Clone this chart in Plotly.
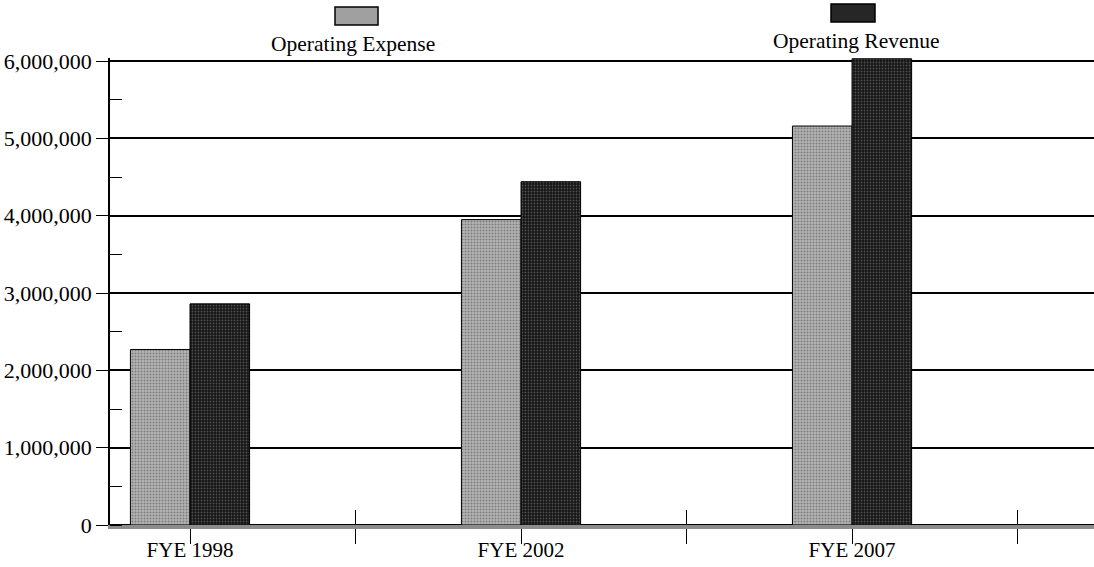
import plotly.graph_objects as go

categories = ["FYE 1998", "FYE 2002", "FYE 2007"]
operating_expense = [2270000, 3950000, 5160000]
operating_revenue = [2860000, 4440000, 6030000]
y_ticks = [0, 1000000, 2000000, 3000000, 4000000, 5000000, 6000000]

x_pos = list(range(len(categories)))
FONT = "Liberation Serif"

fig = go.Figure()
fig.add_trace(go.Bar(
    x=x_pos, y=operating_expense, name="Operating Expense",
    marker=dict(color="#a8a8a8", line=dict(color="black", width=1),
                pattern=dict(shape=".", fgcolor="#444444", bgcolor="#b4b4b4", size=3, solidity=0.35)),
))
fig.add_trace(go.Bar(
    x=x_pos, y=operating_revenue, name="Operating Revenue",
    marker=dict(color="#222222", line=dict(color="black", width=1),
                pattern=dict(shape=".", fgcolor="#8a8a8a", bgcolor="#151515", size=3, solidity=0.3)),
))

# x ticks: labels at category centers, plus boundary ticks
tickvals = []
ticktext = []
for i, c in enumerate(categories):
    tickvals += [i, i + 0.5]
    ticktext += [c, ""]

fig.update_layout(
    width=1094, height=567,
    margin=dict(l=110, r=0, t=58, b=42),
    paper_bgcolor="white", plot_bgcolor="white",
    barmode="group", bargap=0.64, bargroupgap=0,
    showlegend=False,
    font=dict(family=FONT, size=21, color="black"),
    xaxis=dict(
        range=[-0.2417, 2.731], automargin=False,
        tickmode="array", tickvals=tickvals, ticktext=ticktext,
        ticks="outside", ticklen=15, tickwidth=1.2, tickcolor="black",
        ticklabelstandoff=-12,
        minor=dict(tickmode="linear", tick0=0.5, dtick=1, ticks="inside",
                   ticklen=15, tickwidth=1.2, tickcolor="black", showgrid=False),
        showline=True, linecolor="#8c8c8c", linewidth=4,
        showgrid=False, zeroline=False,
        tickfont=dict(family=FONT, size=21, color="black"),
    ),
    yaxis=dict(
        range=[0, 6040000], automargin=False,
        tickmode="array", tickvals=y_ticks, tickformat=",d",
        ticks="outside", ticklen=12, tickwidth=1.2, tickcolor="black",
        minor=dict(tickmode="linear", tick0=0, dtick=500000, ticks="inside",
                   ticklen=12, tickwidth=1.2, tickcolor="black", showgrid=False),
        showline=True, linecolor="black", linewidth=1.5,
        showgrid=True, gridcolor="black", gridwidth=1.5,
        zeroline=True, zerolinecolor="black", zerolinewidth=1.5,
        tickfont=dict(family=FONT, size=22, color="black"),
    ),
)

# Custom legend: swatch above label
def px_x(p):
    return (p - 110) / 984.0

def px_y(p):
    return (525 - p) / 467.0

legend_items = [
    ("Operating Expense", "#a0a0a0", 335, 378, 7, 25, 353, 44),
    ("Operating Revenue", "#262626", 831, 875, 4, 22, 856, 41),
]
for label, col, x0, x1, y0, y1, tx, ty in legend_items:
    fig.add_shape(type="rect", xref="paper", yref="paper",
                  x0=px_x(x0), x1=px_x(x1), y0=px_y(y1), y1=px_y(y0),
                  fillcolor=col, line=dict(color="black", width=1.5))
    fig.add_annotation(text=label, xref="paper", yref="paper",
                       x=px_x(tx), y=px_y(ty), xanchor="center", yanchor="middle",
                       showarrow=False, font=dict(family=FONT, size=21.5, color="black"))

fig.write_html(
    "out.html",
    config={"displayModeBar": False},
    post_script="document.body.style.margin='0';document.body.style.padding='0';document.body.style.overflow='hidden';",
)
